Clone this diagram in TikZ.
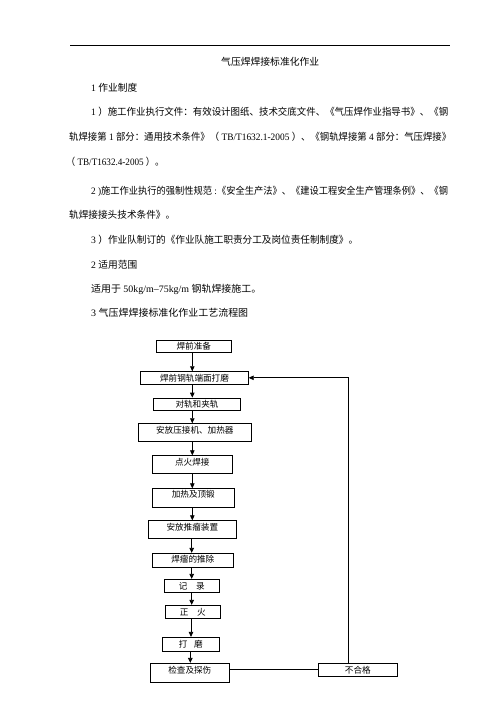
\documentclass[tikz,border=0pt]{standalone}
\usepackage{fontspec}
\usepackage{graphicx}
\setmainfont{Noto Sans CJK SC}
\newfontfamily\latf{Liberation Serif}
\newcommand\lt[1]{{\latf #1}}
\newcommand\fitw[2]{\resizebox{#1}{\height}{#2}}
\usetikzlibrary{arrows.meta}
\begin{document}
\begin{tikzpicture}[x=1pt,y=-1pt,
  txt/.style={anchor=base west, inner sep=0pt, font=\fontsize{9.8}{12}\selectfont},
  box/.style n args={3}{draw, line width=0.8pt, inner sep=0pt, anchor=center,
     font=\fontsize{8.6}{10}\selectfont, minimum width=#1pt, text height=#2pt, text depth=#3pt},
  arr/.style={line width=0.8pt, -{Triangle[length=5pt,width=4.5pt]}},
  ln/.style={line width=0.8pt}]
\useasboundingbox (0,0) rectangle (496,702);
\fill[white] (0,0) rectangle (496,702);

% header rule
\coordinate (rl) at (70,45);
\coordinate (rr) at (450,45);
\draw[line width=0.8pt] (rl) -- (rr);

% text
\node[txt] (t0) at (221,65.4) {\fitw{98pt}{气压焊焊接标准化作业}};
\node[txt] (h1) at (91,91) {\fitw{46pt}{\lt{1 }作业制度}};
\node[txt] (p1) at (91,115.4) {\fitw{357pt}{\lt{1 }）施工作业执行文件：有效设计图纸、技术交底文件、《气压焊作业指导书》、《钢}};
\node[txt] (p2) at (69,140.4) {\fitw{382pt}{轨焊接第\lt{ 1 }部分：通用技术条件》（\lt{ TB/T1632.1-2005 }）、《钢轨焊接第\lt{ 4 }部分：气压焊接》}};
\node[txt] (p3) at (66,165.4) {\fitw{98pt}{（\lt{ TB/T1632.4-2005 }）。}};
\node[txt] (p4) at (91,194.7) {\fitw{357pt}{\lt{2 )}施工作业执行的强制性规范\lt{ :}《安全生产法》、《建设工程安全生产管理条例》、《钢}};
\node[txt] (p5) at (69,218.7) {\fitw{106pt}{轨焊接接头技术条件》。}};
\node[txt] (p6) at (91,243) {\fitw{267pt}{\lt{3 }）作业队制订的《作业队施工职责分工及岗位责任制制度》。}};
\node[txt] (h2) at (91,268.7) {\fitw{46pt}{\lt{2 }适用范围}};
\node[txt] (p7) at (91,292) {\fitw{170pt}{适用于\lt{ 50kg/m–75kg/m }钢轨焊接施工。}};
\node[txt] (h3) at (91,316.4) {\fitw{157pt}{\lt{3 }气压焊焊接标准化作业工艺流程图}};

% flowchart boxes
\node[box={74.3}{9.3}{2.7}]   (b1)  at (193.8,346)   {焊前准备};
\node[box={107.6}{9.45}{2.85}] (b2) at (194.5,377.8) {焊前钢轨端面打磨};
\node[box={86.6}{9.3}{2.7}]   (b3)  at (197,404)     {对轨和夹轨};
\node[box={113}{9.65}{7.65}]  (b4)  at (194.8,432.3) {安放压接机、加热器};
\node[box={80}{9.3}{8.3}]     (b5)  at (192.3,464.5) {点火焊接};
\node[box={82}{8.9}{9.7}]     (b6)  at (193.3,498)   {加热及顶锻};
\node[box={88}{9.3}{8.3}]     (b7)  at (192.3,529.5) {安放推瘤装置};
\node[box={81}{9.0}{5.0}]     (b8)  at (192.8,560.3) {焊瘤的推除};
\node[box={55}{9.8}{3.2}]     (b9)  at (191.8,585.8) {记\hspace{1em}录};
\node[box={55}{9.8}{3.2}]     (b10) at (192.8,611.8) {正\hspace{1em}火};
\node[box={57}{10.3}{3.7}]    (b11) at (190.8,644.3) {打\hspace{0.75em}磨};
\node[box={79}{10.0}{9.0}]    (b12) at (189.8,672.8) {检查及探伤};
\node[box={79}{9.65}{3.05}]   (b13) at (357.8,669.7) {不合格};

% arrow columns
\coordinate (ca) at (192.3,0);
\coordinate (cb) at (191.7,0);
\coordinate (cc) at (191,0);
\coordinate (cd) at (190.3,0);
\coordinate (fb) at (348.3,0);

\draw[arr] (b1.south -| ca) -- (b2.north -| ca);
\draw[arr] (b2.south -| ca) -- (b3.north -| ca);
\draw[arr] (b3.south -| ca) -- (b4.north -| ca);
\draw[arr] (b4.south -| ca) -- (b5.north -| ca);
\draw[arr] (b5.south -| ca) -- (b6.north -| ca);
\draw[arr] (b6.south -| ca) -- (b7.north -| ca);
\draw[arr] (b7.south -| cb) -- (b8.north -| cb);
\draw[arr] (b8.south -| cb) -- (b9.north -| cb);
\draw[arr] (b9.south -| cb) -- (b10.north -| cb);
\draw[arr] (b10.south -| cc) -- (b11.north -| cc);
\draw[arr] (b11.south -| cd) -- (b12.north -| cd);

% feedback loop
\draw[ln] (b12.east |- b13.west) -- (b13.west);
\draw[arr] (b13.north -| fb) |- (b2.east);
\end{tikzpicture}
\end{document}
